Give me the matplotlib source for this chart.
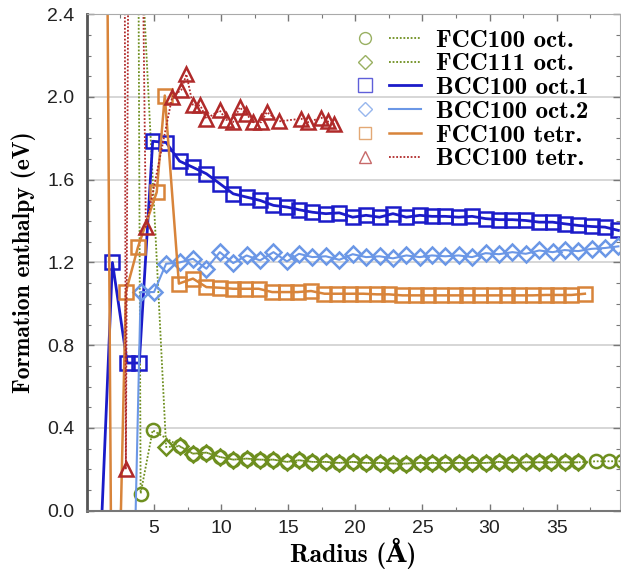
import matplotlib
matplotlib.use('Agg')
import matplotlib.pyplot as plt
from matplotlib.lines import Line2D
from matplotlib.legend_handler import HandlerTuple
from matplotlib.ticker import FixedLocator, MultipleLocator, FormatStrFormatter

# radius values (Angstrom); first points of several
# series lie far outside the y range and only show up as steep lines

# FCC100 oct. (circles)
fcc100_oct_x = [3.5, 4.0, 4.9, 6.9, 7.9, 8.9, 9.9, 10.9, 11.9, 12.9, 13.9, 14.9,
                15.8, 16.8, 17.8, 18.8, 19.8, 20.8, 21.8, 22.8, 23.8, 24.8, 25.7,
                26.7, 27.7, 28.7, 29.7, 30.7, 31.7, 32.7, 33.7, 34.6, 35.6, 36.6,
                37.9, 38.9, 39.9]
fcc100_oct_y = [8.0, 0.083, 0.389, 0.312, 0.276, 0.281, 0.260, 0.247, 0.252, 0.247,
                0.247, 0.236, 0.244, 0.236, 0.236, 0.231, 0.236, 0.231, 0.231, 0.228,
                0.228, 0.231, 0.231, 0.231, 0.231, 0.231, 0.231, 0.236, 0.231, 0.234,
                0.234, 0.234, 0.234, 0.234, 0.239, 0.239, 0.239]

# FCC111 oct. (diamonds)
fcc111_oct_x = [2.9, 3.9, 5.9, 6.9, 7.9, 8.9, 9.9, 10.9, 11.9, 12.9, 13.9, 14.9,
                15.8, 16.8, 17.8, 18.8, 19.8, 20.8, 21.8, 22.8, 23.8, 24.8, 25.7,
                26.7, 27.7, 28.7, 29.7, 30.7, 31.7, 32.7, 33.7, 34.6, 35.6, 36.6]
fcc111_oct_y = [6.0, 2.9, 0.308, 0.312, 0.276, 0.281, 0.260, 0.247, 0.252, 0.247,
                0.247, 0.236, 0.244, 0.236, 0.236, 0.231, 0.236, 0.231, 0.231, 0.228,
                0.228, 0.231, 0.231, 0.231, 0.231, 0.231, 0.231, 0.236, 0.231, 0.234,
                0.234, 0.234, 0.234, 0.234]

# BCC100 oct.1 (squares, dark blue)
bcc_oct1_x = [0.9, 1.9, 3.0, 3.9, 4.9, 5.9, 6.9, 7.9, 8.9, 9.9, 10.9, 11.9, 12.9,
              13.9, 14.9, 15.8, 16.8, 17.8, 18.8, 19.8, 20.8, 21.8, 22.8, 23.8,
              24.8, 25.7, 26.7, 27.7, 28.7, 29.7, 30.7, 31.7, 32.7, 33.7, 34.7,
              35.6, 36.6, 37.6, 38.6, 39.6]
bcc_oct1_y = [-0.35, 1.200, 0.714, 0.714, 1.786, 1.780, 1.690, 1.660, 1.629, 1.581,
              1.532, 1.516, 1.500, 1.476, 1.468, 1.455, 1.443, 1.436, 1.440, 1.419,
              1.428, 1.419, 1.436, 1.419, 1.428, 1.423, 1.423, 1.419, 1.423, 1.412,
              1.407, 1.407, 1.403, 1.395, 1.395, 1.387, 1.379, 1.374, 1.371, 1.355]

# BCC100 oct.2 (diamonds, light blue)
bcc_oct2_x = [3.0, 4.0, 5.0, 5.9, 6.9, 7.9, 8.9, 9.9, 10.9, 11.9, 12.9, 13.9,
              14.9, 15.8, 16.8, 17.8, 18.8, 19.8, 20.8, 21.8, 22.8, 23.8, 24.8,
              25.7, 26.7, 27.7, 28.7, 29.7, 30.7, 31.7, 32.7, 33.7, 34.7, 35.6,
              36.6, 37.6, 38.6, 39.6]
bcc_oct2_y = [-1.8, 1.057, 1.057, 1.194, 1.200, 1.218, 1.170, 1.250, 1.197, 1.234,
              1.210, 1.250, 1.205, 1.242, 1.226, 1.230, 1.213, 1.240, 1.226, 1.230,
              1.220, 1.234, 1.226, 1.234, 1.230, 1.234, 1.226, 1.245, 1.240, 1.250,
              1.242, 1.258, 1.250, 1.260, 1.255, 1.266, 1.270, 1.278]

# FCC100 tetr. (squares, orange)
fcc100_tetr_x = [0.95, 1.95, 2.9, 3.8, 5.2, 5.8, 6.85, 7.9, 8.9, 9.9, 10.9, 11.8,
                 12.8, 13.8, 14.8, 15.7, 16.7, 17.7, 18.6, 19.6, 20.6, 21.6, 22.5,
                 23.5, 24.5, 25.4, 26.4, 27.4, 28.3, 29.3, 30.3, 31.3, 32.2, 33.2,
                 34.2, 35.1, 36.1, 37.1]
fcc100_tetr_y = [8.3, -1.67, 1.057, 1.274, 1.540, 2.007, 1.098, 1.122, 1.081, 1.078,
                 1.073, 1.073, 1.073, 1.057, 1.057, 1.057, 1.062, 1.049, 1.049, 1.049,
                 1.049, 1.046, 1.046, 1.041, 1.041, 1.041, 1.041, 1.041, 1.041, 1.041,
                 1.041, 1.041, 1.041, 1.041, 1.043, 1.043, 1.043, 1.049]

# BCC100 tetr. (triangles, dark red)
bcc_tetr_x = [2.6, 2.9, 3.4, 4.39, 6.35, 7.04, 7.41, 7.9, 8.45, 8.9, 9.89, 10.38,
              10.88, 11.38, 11.87, 12.37, 12.99, 13.4, 14.3, 15.96, 16.45, 17.45,
              17.94, 18.44]
bcc_tetr_y = [9.0, 0.204, 7.0, 1.371, 2.000, 2.035, 2.110, 1.959, 1.959, 1.895,
              1.935, 1.890, 1.878, 1.950, 1.919, 1.878, 1.878, 1.927, 1.882, 1.895,
              1.878, 1.900, 1.882, 1.870]

labels = ['FCC100 oct.', 'FCC111 oct.', 'BCC100 oct.1', 'BCC100 oct.2',
          'FCC100 tetr.', 'BCC100 tetr.']

green = '#6e8f1f'
dblue = '#1b1bc9'
lblue = '#6b97e6'
orange = '#d8843a'
red = '#b02a2a'
dots = (0, (1, 1))

serif = ['cmb10', 'DejaVu Serif']

fig = plt.figure(figsize=(6.21, 5.70), dpi=100)
ax = fig.add_axes([0.140, 0.104, 0.858, 0.871])

series = [
    (fcc100_oct_x, fcc100_oct_y, green, dots, 1.3, 'o', 9.5),
    (fcc111_oct_x, fcc111_oct_y, green, dots, 1.3, 'D', 8.0),
    (bcc_oct1_x, bcc_oct1_y, dblue, '-', 2.0, 's', 10.5),
    (bcc_oct2_x, bcc_oct2_y, lblue, '-', 1.5, 'D', 8.0),
    (fcc100_tetr_x, fcc100_tetr_y, orange, '-', 1.8, 's', 10.0),
    (bcc_tetr_x, bcc_tetr_y, red, dots, 1.3, '^', 10.0),
]

handles = []
for x, y, c, ls, lw, mk, ms in series:
    ax.plot(x, y, color=c, ls=ls, lw=lw, marker=mk, ms=ms, mew=1.8,
            mfc='none', mec=c)
    h_mark = Line2D([], [], ls='none', marker=mk, ms=ms * 0.9, mew=1.0,
                    mfc='none', mec=c, alpha=0.7)
    h_line = Line2D([], [], color=c, ls=ls, lw=lw)
    handles.append((h_mark, h_line))

ax.set_xlim(0, 39.7)
ax.set_ylim(0, 2.4)

ax.xaxis.set_major_locator(FixedLocator([5, 10, 15, 20, 25, 30, 35]))
ax.xaxis.set_minor_locator(MultipleLocator(2.5))
ax.yaxis.set_major_locator(MultipleLocator(0.4))
ax.yaxis.set_minor_locator(MultipleLocator(0.1))
ax.yaxis.set_major_formatter(FormatStrFormatter('%.1f'))

ax.tick_params(which='both', direction='in', top=True, right=True,
               color='#777777')
ax.tick_params(which='major', length=5, width=1)
ax.tick_params(which='minor', length=3, width=0.8)
ax.tick_params(axis='y', pad=9)
ax.tick_params(axis='x', pad=7)
for lab in ax.get_xticklabels() + ax.get_yticklabels():
    lab.set_family('Liberation Sans')
    lab.set_fontsize(14)
    lab.set_color('#222222')

ax.yaxis.grid(True, which='major', color='#d6d6d6', lw=1.4)
ax.set_axisbelow(True)

ax.spines['left'].set_color('#555555')
ax.spines['left'].set_linewidth(2.0)
ax.spines['bottom'].set_color('#777777')
ax.spines['bottom'].set_linewidth(1.5)
ax.spines['top'].set_color('#aaaaaa')
ax.spines['right'].set_color('#aaaaaa')

ax.set_xlabel('Radius (Å)', family=serif, weight='bold', fontsize=18.5,
              labelpad=0)
ax.set_ylabel('Formation enthalpy (eV)', family=serif, weight='bold',
              fontsize=17, labelpad=8)

leg = ax.legend(handles, labels, loc='upper left',
                bbox_to_anchor=(0.473, 0.990), frameon=False,
                handler_map={tuple: HandlerTuple(ndivide=None, pad=0.3)},
                handlelength=2.9, handletextpad=0.6, labelspacing=0.05,
                borderaxespad=0.0, prop={'family': serif, 'weight': 'bold',
                                         'size': 18})

fig.savefig('out.png', dpi=100)
